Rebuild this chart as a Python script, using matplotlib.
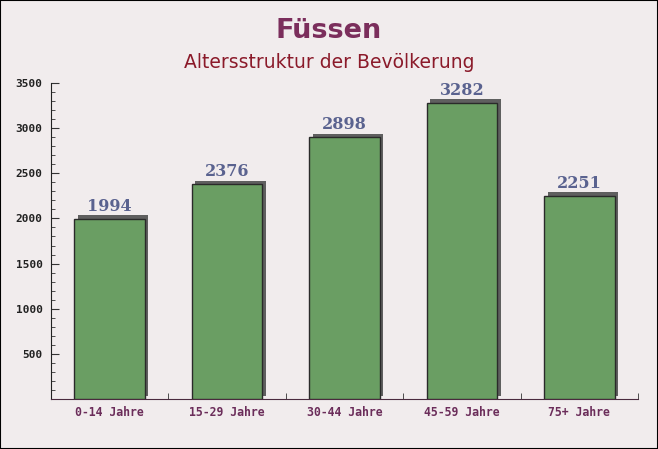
import matplotlib
matplotlib.use("Agg")
import matplotlib.pyplot as plt
import matplotlib.transforms as mtransforms
from matplotlib.ticker import MultipleLocator

categories = ["0-14 Jahre", "15-29 Jahre", "30-44 Jahre", "45-59 Jahre", "75+ Jahre"]
values = [1994, 2376, 2898, 3282, 2251]
title = "Füssen"
subtitle = "Altersstruktur der Bevölkerung"

fig = plt.figure(figsize=(6.58, 4.49), dpi=100, facecolor="#f1eced")
ax = fig.add_axes([51/658, 50/449, 587/658, 316/449])
ax.set_facecolor("none")

x = list(range(len(categories)))
shadow = ax.transData + mtransforms.ScaledTranslation(3.5/100, 3.5/100, fig.dpi_scale_trans)
ax.bar(x, values, width=0.6, color="#5f5f5f", edgecolor="none", transform=shadow, zorder=2)
ax.bar(x, values, width=0.6, color="#6a9e63", edgecolor="#2a2a2a", linewidth=1.0, zorder=3)

for xi, v in zip(x, values):
    ax.annotate(f"{v}", (xi, v), xytext=(0, 3), textcoords="offset points",
                ha="center", va="bottom", fontsize=11.5, fontweight="bold",
                family="DejaVu Serif", color="#5a628f", zorder=4)

ax.set_xlim(-0.5, len(categories) - 0.5)
ax.set_ylim(0, 3500)
ax.yaxis.set_major_locator(MultipleLocator(500))
ax.yaxis.set_minor_locator(MultipleLocator(100))
ax.set_yticks([500, 1000, 1500, 2000, 2500, 3000, 3500])
ax.set_xticks(x)
ax.set_xticklabels(categories, family="DejaVu Sans Mono", fontweight="bold", fontsize=8.3, color="#6b2d5a")
for lab in ax.get_yticklabels():
    lab.set_family("DejaVu Sans Mono")
    lab.set_fontweight("bold")
    lab.set_fontsize(8)
    lab.set_color("#222222")
ax.tick_params(axis="x", length=0, pad=5)
ax.set_xticks([i + 0.5 for i in range(len(categories))], minor=True)
ax.tick_params(axis="x", which="minor", direction="in", length=4, color="#333333")
ax.tick_params(axis="y", which="major", direction="in", length=6, color="#333333", pad=6)
ax.tick_params(axis="y", which="minor", direction="in", length=3, color="#333333")
for s in ["top", "right"]:
    ax.spines[s].set_visible(False)
ax.spines["left"].set_color("#222222")
ax.spines["bottom"].set_color("#4a2a3e")

fig.text(329/658, 1 - 31/449, title, ha="center", va="center", fontsize=19.5,
         fontweight="bold", color="#7b2e5c")
fig.text(329/658, 1 - 62/449, subtitle, ha="center", va="center", fontsize=13.5,
         color="#8b1a2a")

border = plt.Rectangle((0, 0), 1, 1, transform=fig.transFigure, fill=False,
                       edgecolor="black", linewidth=1.5)
fig.patches.append(border)

fig.savefig("out.png", dpi=100, facecolor=fig.get_facecolor())
